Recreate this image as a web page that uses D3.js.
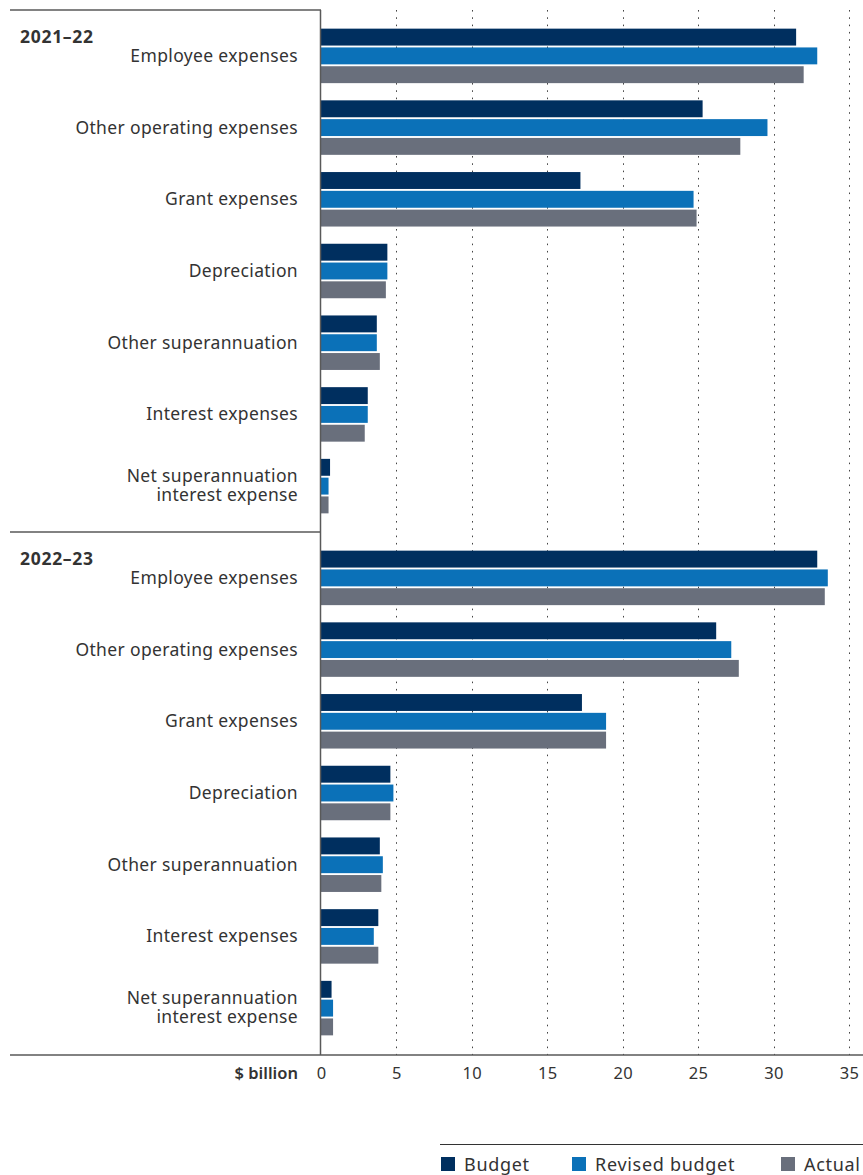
<!DOCTYPE html>
<html>
<head>
<meta charset="utf-8">
<script src="https://cdn.jsdelivr.net/npm/d3@7"></script>
<style>
  body { margin: 0; background: #fff; }
  svg { display: block; font-family: "Noto Sans", sans-serif; }
</style>
</head>
<body>
<svg width="863" height="1175"></svg>
<script>
// data ($ billion)
var years = ["2021\u201322", "2022\u201323"];
var categories = ["Employee expenses", "Other operating expenses", "Grant expenses",
    "Depreciation", "Other superannuation", "Interest expenses",
    "Net superannuation interest expense"];
var seriesNames = ["Budget", "Revised budget", "Actual"];
var seriesColors = ["#002f5f", "#0b71b8", "#696f7c"];

var budget2122  = [31.5, 25.3, 17.2, 4.4, 3.7, 3.1, 0.6];
var revised2122 = [32.9, 29.6, 24.7, 4.4, 3.7, 3.1, 0.5];
var actual2122  = [32.0, 27.8, 24.9, 4.3, 3.9, 2.9, 0.5];
var budget2223  = [32.9, 26.2, 17.3, 4.6, 3.9, 3.8, 0.7];
var revised2223 = [33.6, 27.2, 18.9, 4.8, 4.1, 3.5, 0.8];
var actual2223  = [33.4, 27.7, 18.9, 4.6, 4.0, 3.8, 0.8];

var xTicks = [0, 5, 10, 15, 20, 25, 30, 35];

var sections = [
    {year: years[0], values: [budget2122, revised2122, actual2122]},
    {year: years[1], values: [budget2223, revised2223, actual2223]}
];

var svg = d3.select("svg"),
    textColor = "#333",
    lineColor = "#595959";

var plotLeft = 321, plotRight = 864,
    chartTop = 10, sectionH = 522, chartBottom = chartTop + sectionH * 2 + 1;

var x = d3.scaleLinear().domain([0, 36]).range([plotLeft, plotRight]);

// gridlines
svg.append("g").selectAll("line")
    .data(xTicks.filter(function(d) { return d > 0; }))
    .enter().append("line")
    .attr("x1", function(d) { return Math.round(x(d)) + 0.5; })
    .attr("x2", function(d) { return Math.round(x(d)) + 0.5; })
    .attr("y1", chartTop)
    .attr("y2", chartBottom)
    .attr("stroke", "#444")
    .attr("stroke-width", 1)
    .attr("stroke-dasharray", "1.6,5.7");

sections.forEach(function(sec, si) {
    var y0 = chartTop + si * sectionH;

    var y = d3.scaleBand()
        .domain(categories)
        .range([y0, y0 + sectionH])
        .paddingInner(0.24)
        .paddingOuter(0.26);

    var ySub = d3.scaleBand()
        .domain(seriesNames)
        .range([0, y.bandwidth()])
        .paddingInner(0.1);

    // section rule on the left
    svg.append("line")
        .attr("x1", 10).attr("x2", plotLeft)
        .attr("y1", y0).attr("y2", y0)
        .attr("stroke", lineColor).attr("stroke-width", 1.5);

    svg.append("text")
        .attr("x", 20)
        .attr("y", y0 + 33)
        .attr("font-size", 17.5)
        .attr("font-weight", 700)
        .attr("letter-spacing", 0.7)
        .attr("fill", textColor)
        .text(sec.year);

    var g = svg.append("g");

    categories.forEach(function(cat, ci) {
        seriesNames.forEach(function(s, k) {
            g.append("rect")
                .attr("x", x(0))
                .attr("y", y(cat) + ySub(s))
                .attr("width", x(sec.values[k][ci]) - x(0))
                .attr("height", ySub.bandwidth())
                .attr("fill", seriesColors[k]);
        });

        var cy = y(cat) + y.bandwidth() / 2;
        var label = svg.append("text")
            .attr("text-anchor", "end")
            .attr("font-size", 17.5)
            .attr("letter-spacing", 0.35)
            .attr("fill", textColor);
        if (cat === "Net superannuation interest expense") {
            label.append("tspan").attr("x", 298).attr("y", cy - 4).text("Net superannuation");
            label.append("tspan").attr("x", 298).attr("y", cy + 15).text("interest expense");
        } else {
            label.attr("x", 298).attr("y", cy + 6).text(cat);
        }
    });
});

// vertical axis line
svg.append("line")
    .attr("x1", plotLeft - 0.5).attr("x2", plotLeft - 0.5)
    .attr("y1", chartTop).attr("y2", chartBottom)
    .attr("stroke", lineColor).attr("stroke-width", 1.5);

// bottom rule
svg.append("line")
    .attr("x1", 10).attr("x2", 863)
    .attr("y1", chartBottom).attr("y2", chartBottom)
    .attr("stroke", lineColor).attr("stroke-width", 1.5);

var xAxis = d3.axisBottom(x).tickValues(xTicks).tickSize(0).tickPadding(0);
var axisG = svg.append("g")
    .attr("transform", "translate(0," + (chartBottom + 12) + ")")
    .call(xAxis);
axisG.select(".domain").remove();
axisG.selectAll("text")
    .attr("font-family", "Noto Sans, sans-serif")
    .attr("font-size", 16.5)
    .attr("letter-spacing", 0.3)
    .attr("fill", textColor)
    .attr("dy", "0.71em");

svg.append("text")
    .attr("x", 298)
    .attr("y", chartBottom + 24)
    .attr("text-anchor", "end")
    .attr("font-size", 16.5)
    .attr("font-weight", 600)
    .attr("fill", textColor)
    .text("$ billion");

// legend
var legendX = [441, 572, 781];
svg.append("line")
    .attr("x1", 440).attr("x2", 863)
    .attr("y1", 1144.5).attr("y2", 1144.5)
    .attr("stroke", textColor).attr("stroke-width", 1);

var legend = svg.append("g").selectAll("g")
    .data(seriesNames)
    .enter().append("g")
    .attr("transform", function(d, i) { return "translate(" + legendX[i] + ",1157)"; });

legend.append("rect")
    .attr("width", 14).attr("height", 14)
    .attr("fill", function(d, i) { return seriesColors[i]; });

legend.append("text")
    .attr("x", 23)
    .attr("y", 13.5)
    .attr("font-size", 18)
    .attr("letter-spacing", 0.7)
    .attr("fill", textColor)
    .text(function(d) { return d; });
</script>
</body>
</html>
